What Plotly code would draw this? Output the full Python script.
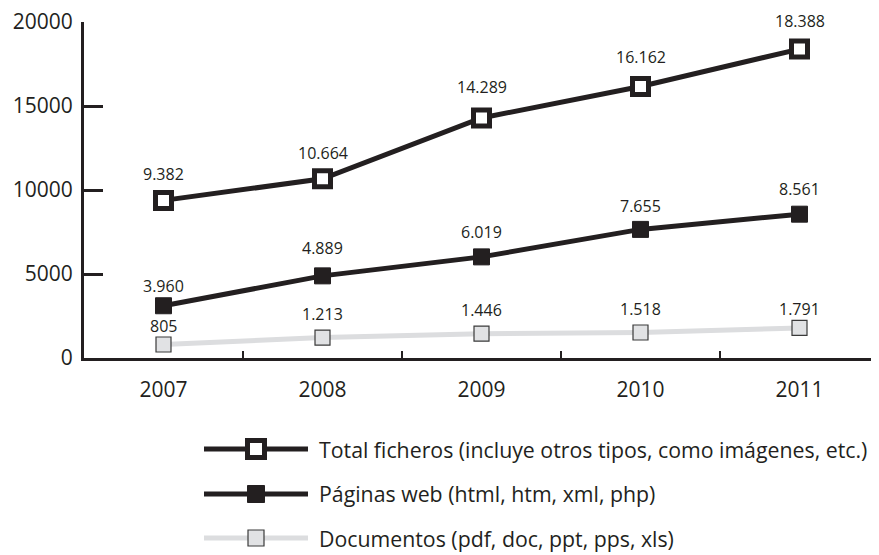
import plotly.graph_objects as go

# ---- data ----
years = ["2007", "2008", "2009", "2010", "2011"]
total_ficheros = [9382, 10664, 14289, 16162, 18388]
paginas_web = [3110, 4889, 6019, 7655, 8561]   # 2007 point is drawn at ~3100 in the source image
documentos = [805, 1213, 1446, 1518, 1791]
total_labels = ["9.382", "10.664", "14.289", "16.162", "18.388"]
paginas_labels = ["3.960", "4.889", "6.019", "7.655", "8.561"]
documentos_labels = ["805", "1.213", "1.446", "1.518", "1.791"]
legend_names = [
    "Total ficheros (incluye otros tipos, como imágenes, etc.)",
    "Páginas web (html, htm, xml, php)",
    "Documentos (pdf, doc, ppt, pps, xls)",
]
y_ticks = [0, 5000, 10000, 15000, 20000]

# ---- style ----
DARK = "#231f20"
GREY_LINE = "#dcdddf"
DOC_FILL = "#e1e2e4"
FONT = "Open Sans"

OFF = 8                      # page body margin
WIN_W, WIN_H = 879, 555
W, H = WIN_W - OFF, WIN_H - OFF
PL, PR, PT, PB = 84, 879, 22, 358   # plot area in window pixels


def px_x(p):
    return (p - PL) / (PR - PL)


def px_y(p):
    return (PB - p) / (PB - PT)


fig = go.Figure()

fig.add_trace(go.Scatter(
    x=years, y=documentos, mode="lines+markers", name=legend_names[2],
    line=dict(color=GREY_LINE, width=5),
    marker=dict(symbol="square", size=15, color=DOC_FILL, line=dict(color="#3a3a3a", width=1.2)),
))
fig.add_trace(go.Scatter(
    x=years, y=paginas_web, mode="lines+markers", name=legend_names[1],
    line=dict(color=DARK, width=5),
    marker=dict(symbol="square", size=16, color=DARK, line=dict(color=DARK, width=1)),
))
fig.add_trace(go.Scatter(
    x=years, y=total_ficheros, mode="lines+markers", name=legend_names[0],
    line=dict(color=DARK, width=5),
    marker=dict(symbol="square", size=16, color="white", line=dict(color=DARK, width=5)),
))

annotations = []
shifts_total = [26, 26, 31, 29, 28]
shifts_pag = [20, 28, 25, 23, 25]
shifts_doc = [18, 24, 24, 24, 19]
for vals, labs, shifts in [(total_ficheros, total_labels, shifts_total),
                           (paginas_web, paginas_labels, shifts_pag),
                           (documentos, documentos_labels, shifts_doc)]:
    for i, (v, t, s) in enumerate(zip(vals, labs, shifts)):
        annotations.append(dict(x=i, y=v, xref="x", yref="y", text=t, showarrow=False, yshift=s,
                                font=dict(family=FONT, size=16, color=DARK)))

# ---- manual legend ----
shapes = []
rows = [449, 494, 538]
styles = [
    dict(line=DARK, fill="white", border=DARK, bw=5, size=17),
    dict(line=DARK, fill=DARK, border=DARK, bw=1, size=17),
    dict(line=GREY_LINE, fill=DOC_FILL, border="#3a3a3a", bw=1.2, size=16),
]
for r, st, name in zip(rows, styles, legend_names):
    shapes.append(dict(type="line", xref="paper", yref="paper",
                       x0=px_x(204), x1=px_x(308), y0=px_y(r), y1=px_y(r),
                       line=dict(color=st["line"], width=5)))
    hs = st["size"] / 2
    shapes.append(dict(type="rect", xref="paper", yref="paper",
                       x0=px_x(256 - hs), x1=px_x(256 + hs), y0=px_y(r + hs), y1=px_y(r - hs),
                       fillcolor=st["fill"], line=dict(color=st["border"], width=st["bw"])))
    annotations.append(dict(xref="paper", yref="paper", x=px_x(317), y=px_y(r),
                            xanchor="left", yanchor="middle", text=name, showarrow=False,
                            font=dict(family=FONT, size=21.3, color=DARK)))

fig.update_layout(
    width=W, height=H,
    margin=dict(l=PL - OFF, r=WIN_W - PR, t=PT - OFF, b=WIN_H - PB),
    paper_bgcolor="white", plot_bgcolor="white",
    showlegend=False,
    font=dict(family=FONT, color=DARK),
    annotations=annotations,
    shapes=shapes,
    xaxis=dict(
        type="category", range=[-0.5, 4.5], showgrid=False, zeroline=False,
        showline=True, linecolor=DARK, linewidth=3,
        ticks="inside", tickson="boundaries", ticklen=7, tickwidth=2, tickcolor=DARK,
        tickfont=dict(family=FONT, size=21, color=DARK), ticklabelstandoff=11,
    ),
    yaxis=dict(
        range=[0, 20000], tickvals=y_ticks, ticktext=[str(v) for v in y_ticks],
        showgrid=False, zeroline=False,
        showline=True, linecolor=DARK, linewidth=3,
        ticks="inside", ticklen=19, tickwidth=3, tickcolor=DARK,
        tickfont=dict(family=FONT, size=21, color=DARK), ticklabelstandoff=4,
        ticklabeloverflow="allow",
    ),
)

fig.write_html("out.html")
